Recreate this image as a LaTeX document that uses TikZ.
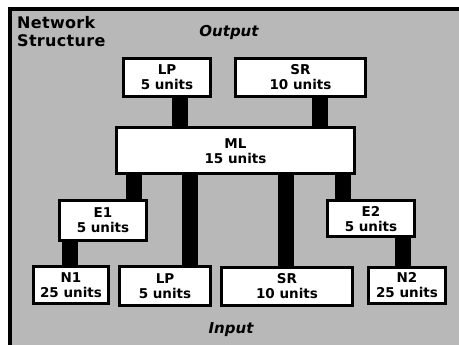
\documentclass[tikz,border=0pt]{standalone}
\usepackage{fontspec}
\setmainfont{DejaVu Sans}
\newfontfamily\bxfam{DejaVu Sans}
\newfontfamily\ttlfam[LetterSpace=2]{DejaVu Sans}
\newfontfamily\itfam{DejaVu Sans}
\begin{document}
\begin{tikzpicture}[x=1pt,y=-1pt,
  box/.style={draw=black, line width=3pt, fill=white, inner sep=0pt, align=center,
    font=\bxfam\bfseries\fontsize{13.5}{15}\selectfont},
  ttl/.style={anchor=base west, inner sep=0pt, font=\ttlfam\bfseries\fontsize{16}{17}\selectfont},
  io/.style={anchor=base, inner sep=0pt, font=\itfam\bfseries\itshape\fontsize{15}{17}\selectfont},
  conn/.style={line width=16pt}]
\useasboundingbox (0,0) rectangle (459,345);
\fill[black!28] (10,9) rectangle (459,345);
\draw[line width=4pt] (10,345) -- (10,9) -- (459,9);

\node[ttl] (t1) at (17,29) {Network};
\node[ttl] (t2) at (17,47) {Structure};
\node[io] (out) at (229,37) {Output};
\node[io] (inp) at (231,334) {Input};

\node[box, minimum width=87, minimum height=38] (lpT) at (167,77.5) {LP\\5 units};
\node[box, minimum width=130, minimum height=38] (srT) at (300.5,77.5) {SR\\10 units};
\node[box, minimum width=238, minimum height=46] (ml) at (235.5,151) {ML\\15 units};
\node[box, minimum width=87, minimum height=40] (e1) at (103,220.5) {E1\\5 units};
\node[box, minimum width=87, minimum height=36] (e2) at (371,219) {E2\\5 units};
\node[box, minimum width=75, minimum height=37] (n1) at (71,285) {N1\\25 units};
\node[box, minimum width=91, minimum height=39] (lpB) at (165,286) {LP\\5 units};
\node[box, minimum width=131, minimum height=38] (srB) at (287,286.5) {SR\\10 units};
\node[box, minimum width=77, minimum height=36] (n2) at (407,285.5) {N2\\25 units};

\draw[conn] (179.5,0 |- lpT.south) -- (179.5,0 |- ml.north);
\draw[conn] (319.5,0 |- srT.south) -- (319.5,0 |- ml.north);
\draw[conn] (133.5,0 |- ml.south) -- (133.5,0 |- e1.north);
\draw[conn] (190,0 |- ml.south) -- (190,0 |- lpB.north);
\draw[conn] (285.5,0 |- ml.south) -- (285.5,0 |- srB.north);
\draw[conn] (342.5,0 |- ml.south) -- (342.5,0 |- e2.north);
\draw[conn] (70,0 |- e1.south) -- (70,0 |- n1.north);
\draw[conn] (402.5,0 |- e2.south) -- (402.5,0 |- n2.north);
\end{tikzpicture}
\end{document}
